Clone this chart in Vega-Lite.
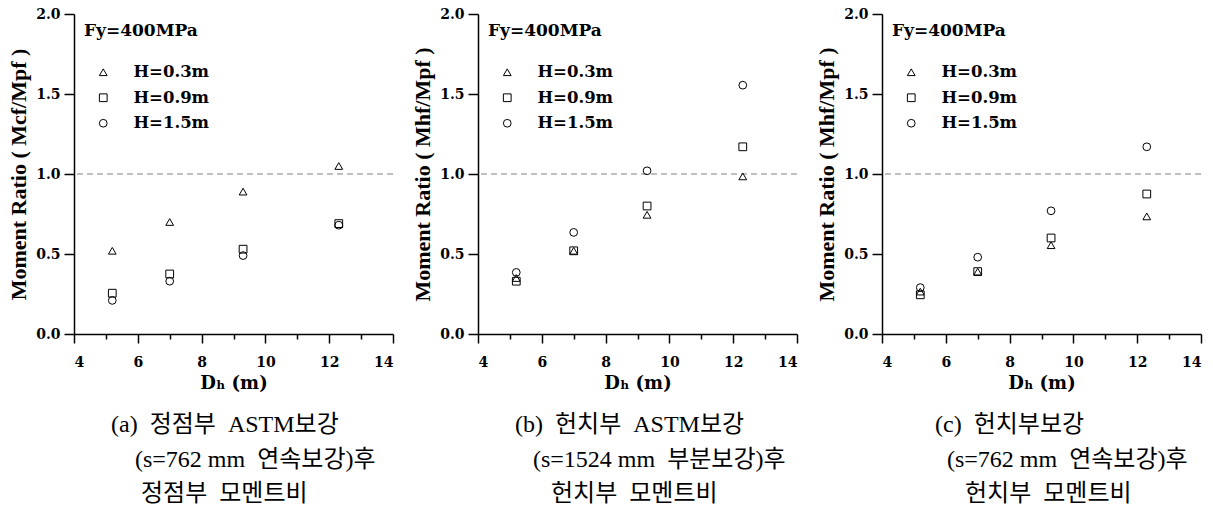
{
  "$schema": "https://vega.github.io/schema/vega-lite/v6.json",
  "background": "white",
  "padding": {"left": 7, "top": 7, "right": 5, "bottom": 0},
  "data": {"values": [
    {"p": "a", "D": 5.2, "H": "H=0.3m", "r": 0.52},
    {"p": "a", "D": 7.0, "H": "H=0.3m", "r": 0.70},
    {"p": "a", "D": 9.3, "H": "H=0.3m", "r": 0.89},
    {"p": "a", "D": 12.3, "H": "H=0.3m", "r": 1.05},
    {"p": "a", "D": 5.2, "H": "H=0.9m", "r": 0.255},
    {"p": "a", "D": 7.0, "H": "H=0.9m", "r": 0.375},
    {"p": "a", "D": 9.3, "H": "H=0.9m", "r": 0.53},
    {"p": "a", "D": 12.3, "H": "H=0.9m", "r": 0.69},
    {"p": "a", "D": 5.2, "H": "H=1.5m", "r": 0.21},
    {"p": "a", "D": 7.0, "H": "H=1.5m", "r": 0.33},
    {"p": "a", "D": 9.3, "H": "H=1.5m", "r": 0.49},
    {"p": "a", "D": 12.3, "H": "H=1.5m", "r": 0.68},
    {"p": "b", "D": 5.2, "H": "H=0.3m", "r": 0.35},
    {"p": "b", "D": 7.0, "H": "H=0.3m", "r": 0.52},
    {"p": "b", "D": 9.3, "H": "H=0.3m", "r": 0.745},
    {"p": "b", "D": 12.3, "H": "H=0.3m", "r": 0.985},
    {"p": "b", "D": 5.2, "H": "H=0.9m", "r": 0.33},
    {"p": "b", "D": 7.0, "H": "H=0.9m", "r": 0.52},
    {"p": "b", "D": 9.3, "H": "H=0.9m", "r": 0.80},
    {"p": "b", "D": 12.3, "H": "H=0.9m", "r": 1.17},
    {"p": "b", "D": 5.2, "H": "H=1.5m", "r": 0.385},
    {"p": "b", "D": 7.0, "H": "H=1.5m", "r": 0.635},
    {"p": "b", "D": 9.3, "H": "H=1.5m", "r": 1.02},
    {"p": "b", "D": 12.3, "H": "H=1.5m", "r": 1.555},
    {"p": "c", "D": 5.2, "H": "H=0.3m", "r": 0.265},
    {"p": "c", "D": 7.0, "H": "H=0.3m", "r": 0.39},
    {"p": "c", "D": 9.3, "H": "H=0.3m", "r": 0.555},
    {"p": "c", "D": 12.3, "H": "H=0.3m", "r": 0.735},
    {"p": "c", "D": 5.2, "H": "H=0.9m", "r": 0.245},
    {"p": "c", "D": 7.0, "H": "H=0.9m", "r": 0.39},
    {"p": "c", "D": 9.3, "H": "H=0.9m", "r": 0.60},
    {"p": "c", "D": 12.3, "H": "H=0.9m", "r": 0.875},
    {"p": "c", "D": 5.2, "H": "H=1.5m", "r": 0.29},
    {"p": "c", "D": 7.0, "H": "H=1.5m", "r": 0.48},
    {"p": "c", "D": 9.3, "H": "H=1.5m", "r": 0.77},
    {"p": "c", "D": 12.3, "H": "H=1.5m", "r": 1.17}
  ]},
  "spacing": 85,
  "bounds": "flush",
  "resolve": {"legend": {"shape": "independent"}},
  "hconcat": [
    {
      "width": 319, "height": 320,
      "title": {"text": ["(a)\u00a0 정점부\u00a0 ASTM보강", "\u200b\u00a0\u00a0\u00a0\u00a0(s=762 mm\u00a0 연속보강)후", "\u200b\u00a0\u00a0\u00a0\u00a0\u00a0정점부\u00a0 모멘트비"], "dx": 37},
      "layer": [
        {"data": {"values": [{}]}, "mark": {"type": "rule", "color": "#808080", "strokeDash": [6, 4], "strokeWidth": 1}, "encoding": {"y": {"datum": 1, "type": "quantitative", "scale": {"domain": [0, 2], "nice": false}}}},
        {
          "transform": [{"filter": "datum.p === 'a'"}],
          "mark": {"type": "point", "filled": false, "color": "black", "strokeWidth": 1, "size": 60, "opacity": 1},
          "encoding": {
            "x": {"field": "D", "type": "quantitative", "scale": {"domain": [4, 14], "nice": false}, "axis": {"title": "Dₕ (m)", "values": [4,5,6,7,8,9,10,11,12,13,14], "labelExpr": "datum.value % 2 == 0 ? datum.label : ''"}},
            "y": {"field": "r", "type": "quantitative", "scale": {"domain": [0, 2], "nice": false}, "axis": {"title": "Moment Ratio ( Mcf/Mpf )", "values": [0,0.25,0.5,0.75,1,1.25,1.5,1.75,2], "labelExpr": "datum.value % 0.5 == 0 ? format(datum.value, '.1f') : ''"}},
            "shape": {"field": "H", "type": "nominal", "scale": {"domain": ["H=0.3m", "H=0.9m", "H=1.5m"], "range": ["triangle-up", "square", "circle"]}, "legend": {"title": "Fy=400MPa", "orient": "none", "legendX": 10, "legendY": 9}}
          }
        }
      ]
    },
    {
      "width": 319, "height": 320,
      "title": {"text": ["(b)\u00a0 헌치부\u00a0 ASTM보강", "\u200b\u00a0\u00a0\u00a0(s=1524 mm\u00a0 부분보강)후", "\u200b\u00a0\u00a0\u00a0\u00a0\u00a0\u00a0헌치부\u00a0 모멘트비"], "dx": 37},
      "layer": [
        {"data": {"values": [{}]}, "mark": {"type": "rule", "color": "#808080", "strokeDash": [6, 4], "strokeWidth": 1}, "encoding": {"y": {"datum": 1, "type": "quantitative", "scale": {"domain": [0, 2], "nice": false}}}},
        {
          "transform": [{"filter": "datum.p === 'b'"}],
          "mark": {"type": "point", "filled": false, "color": "black", "strokeWidth": 1, "size": 60, "opacity": 1},
          "encoding": {
            "x": {"field": "D", "type": "quantitative", "scale": {"domain": [4, 14], "nice": false}, "axis": {"title": "Dₕ (m)", "values": [4,5,6,7,8,9,10,11,12,13,14], "labelExpr": "datum.value % 2 == 0 ? datum.label : ''"}},
            "y": {"field": "r", "type": "quantitative", "scale": {"domain": [0, 2], "nice": false}, "axis": {"title": "Moment Ratio ( Mhf/Mpf )", "values": [0,0.25,0.5,0.75,1,1.25,1.5,1.75,2], "labelExpr": "datum.value % 0.5 == 0 ? format(datum.value, '.1f') : ''"}},
            "shape": {"field": "H", "type": "nominal", "scale": {"domain": ["H=0.3m", "H=0.9m", "H=1.5m"], "range": ["triangle-up", "square", "circle"]}, "legend": {"title": "Fy=400MPa", "orient": "none", "legendX": 10, "legendY": 9}}
          }
        }
      ]
    },
    {
      "width": 319, "height": 320,
      "title": {"text": ["(c)\u00a0 헌치부보강", "\u200b\u00a0\u00a0(s=762 mm\u00a0 연속보강)후", "\u200b\u00a0\u00a0\u00a0\u00a0\u00a0헌치부\u00a0 모멘트비"], "dx": 53},
      "layer": [
        {"data": {"values": [{}]}, "mark": {"type": "rule", "color": "#808080", "strokeDash": [6, 4], "strokeWidth": 1}, "encoding": {"y": {"datum": 1, "type": "quantitative", "scale": {"domain": [0, 2], "nice": false}}}},
        {
          "transform": [{"filter": "datum.p === 'c'"}],
          "mark": {"type": "point", "filled": false, "color": "black", "strokeWidth": 1, "size": 60, "opacity": 1},
          "encoding": {
            "x": {"field": "D", "type": "quantitative", "scale": {"domain": [4, 14], "nice": false}, "axis": {"title": "Dₕ (m)", "values": [4,5,6,7,8,9,10,11,12,13,14], "labelExpr": "datum.value % 2 == 0 ? datum.label : ''"}},
            "y": {"field": "r", "type": "quantitative", "scale": {"domain": [0, 2], "nice": false}, "axis": {"title": "Moment Ratio ( Mhf/Mpf )", "values": [0,0.25,0.5,0.75,1,1.25,1.5,1.75,2], "labelExpr": "datum.value % 0.5 == 0 ? format(datum.value, '.1f') : ''"}},
            "shape": {"field": "H", "type": "nominal", "scale": {"domain": ["H=0.3m", "H=0.9m", "H=1.5m"], "range": ["triangle-up", "square", "circle"]}, "legend": {"title": "Fy=400MPa", "orient": "none", "legendX": 10, "legendY": 9}}
          }
        }
      ]
    }
  ],
  "config": {
    "view": {"stroke": null},
    "axis": {"grid": false, "domainColor": "black", "domainWidth": 1.5, "tickColor": "black", "tickWidth": 1.5, "labelFont": "DejaVu Serif", "labelFontWeight": "bold", "labelFontSize": 14, "labelColor": "black", "titleFont": "DejaVu Serif", "titleFontWeight": "bold", "titleColor": "black", "titleFontSize": 18},
    "axisX": {"tickSize": {"condition": {"test": "datum.value % 2 == 0", "value": 9}, "value": 5}, "labelPadding": 12, "titlePadding": 5},
    "axisY": {"tickSize": {"condition": {"test": "datum.value % 0.5 == 0", "value": 10}, "value": 5}, "labelPadding": 4, "titleFont": "Liberation Serif", "titleFontSize": 22, "titlePadding": 5},
    "legend": {"titleFont": "DejaVu Serif", "titleFontSize": 17, "titleFontWeight": "bold", "titleColor": "black", "labelFont": "DejaVu Serif", "labelFontSize": 16.5, "labelFontWeight": "bold", "labelColor": "black", "symbolStrokeColor": "black", "symbolFillColor": "transparent", "symbolStrokeWidth": 1, "symbolSize": 60, "symbolOffset": 11, "labelOffset": 22, "rowPadding": 8.5, "titlePadding": 24, "padding": 0},
    "title": {"font": "'Liberation Serif', 'Noto Sans CJK KR'", "fontSize": 24, "fontWeight": "normal", "color": "black", "lineHeight": 34.5, "orient": "bottom", "anchor": "start", "frame": "group", "offset": 21}
  }
}
